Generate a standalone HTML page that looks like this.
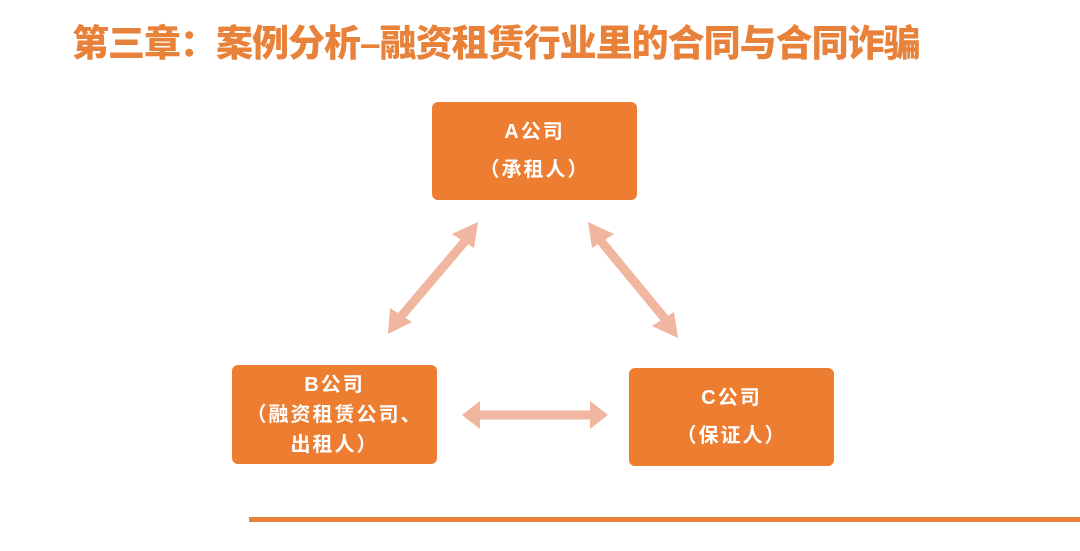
<!DOCTYPE html>
<html><head><meta charset="utf-8"><style>
body{margin:0;width:1080px;height:551px;background:#fff;position:relative;overflow:hidden;font-family:"Liberation Sans","Noto Sans CJK SC",sans-serif}
.t{position:absolute;left:72px;top:13px;font-size:37px;font-weight:900;color:#e8823a;letter-spacing:-1px;white-space:nowrap}
.b{position:absolute;background:#ed7d31;border-radius:6px;color:#fff;font-weight:bold;font-size:20px;letter-spacing:2px;text-align:center;display:flex;flex-direction:column;justify-content:center;line-height:1.9}
.l{position:absolute;left:249px;top:517px;width:831px;height:5px;background:#e8823a}
</style></head><body>
<div class="t">第三章：案例分析–融资租赁行业里的合同与合同诈骗</div>
<div class="b" style="left:432px;top:102px;width:205px;height:98px">A公司<br>（承租人）</div>
<div class="b" style="left:232px;top:365px;width:205px;height:99px;line-height:1.5">B公司<br>（融资租赁公司、<br>出租人）</div>
<div class="b" style="left:629px;top:368px;width:205px;height:98px">C公司<br>（保证人）</div>
<svg width="1080" height="551" style="position:absolute;left:0;top:0">
<g stroke="#f0b6a0" stroke-width="9" fill="#f0b6a0">
<line x1="466" y1="240" x2="398" y2="320"/>
<polygon points="478,222 452,234 474,248" stroke="none"/>
<polygon points="388,334 390,308 412,322" stroke="none"/>
<line x1="600" y1="240" x2="666" y2="320"/>
<polygon points="588,222 614,234 592,248" stroke="none"/>
<polygon points="678,338 652,326 674,312" stroke="none"/>
<line x1="478" y1="415" x2="592" y2="415"/>
<polygon points="462,415 480,401 480,429" stroke="none"/>
<polygon points="608,415 590,401 590,429" stroke="none"/>
</g></svg>
<div class="l"></div>
</body></html>
